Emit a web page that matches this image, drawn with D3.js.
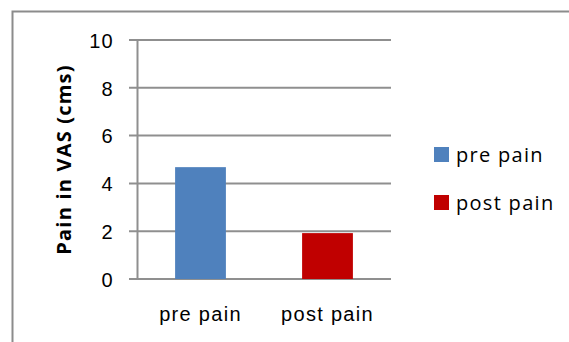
<!DOCTYPE html>
<html>
<head>
<meta charset="utf-8">
<script src="https://cdn.jsdelivr.net/npm/d3@7"></script>
<style>
  html, body { margin: 0; padding: 0; background: #fff; }
  svg { display: block; font-family: "Open Sans", "Noto Sans", sans-serif; }
</style>
</head>
<body>
<svg id="chart" width="569" height="342"></svg>
<script>
// Pain scores on the visual analogue scale, before and after treatment
const categories = ["pre pain", "post pain"];
const values = [4.68, 1.92];
const colors = ["#4f81bd", "#c00000"];
const yTicks = [0, 2, 4, 6, 8, 10];
const yTitle = "Pain in VAS (cms)";

const svg = d3.select("#chart");
const W = 569, H = 342;

// outer chart frame (top and left edges visible)
svg.append("path")
  .attr("d", `M12.5,${H} V11.5 H${W}`)
  .attr("fill", "none")
  .attr("stroke", "#8c8c8c")
  .attr("stroke-width", 2);

const plot = { left: 137, right: 391, top: 40, bottom: 279 };

const x = d3.scaleBand()
  .domain(categories)
  .range([plot.left, plot.right])
  .paddingInner(0.6)
  .paddingOuter(0.3);

const y = d3.scaleLinear()
  .domain([0, 10])
  .range([plot.bottom, plot.top]);

// horizontal gridlines
svg.append("g")
  .selectAll("line")
  .data(yTicks)
  .join("line")
  .attr("x1", plot.left - 8)
  .attr("x2", plot.right)
  .attr("y1", d => y(d))
  .attr("y2", d => y(d))
  .attr("stroke", "#8f8f8f")
  .attr("stroke-width", 2);

// bars
svg.append("g")
  .selectAll("rect")
  .data(categories)
  .join("rect")
  .attr("x", d => x(d))
  .attr("width", x.bandwidth())
  .attr("y", (d, i) => y(values[i]))
  .attr("height", (d, i) => y(0) - y(values[i]))
  .attr("fill", (d, i) => colors[i]);

const labelStyle = sel => sel
  .attr("font-size", 20)
  .attr("letter-spacing", "1.3px")
  .attr("fill", "#000")
  .style("font-family", "inherit");

// y axis
const yAxis = svg.append("g")
  .attr("transform", `translate(${plot.left},0)`)
  .call(d3.axisLeft(y).tickValues(yTicks).tickSize(0).tickPadding(23));
yAxis.select(".domain").attr("stroke", "#8f8f8f").attr("stroke-width", 2);
yAxis.selectAll("text").call(labelStyle).attr("dy", "0.36em");

// x axis labels
const xAxis = svg.append("g")
  .attr("transform", `translate(0,${plot.bottom})`)
  .call(d3.axisBottom(x).tickSize(0).tickPadding(28));
xAxis.select(".domain").remove();
xAxis.selectAll("text").call(labelStyle);

// y axis title
svg.append("text")
  .attr("transform", `translate(71,${(plot.top + plot.bottom) / 2}) rotate(-90)`)
  .attr("text-anchor", "middle")
  .attr("font-size", 20)
  .attr("letter-spacing", "1.2px")
  .attr("font-weight", "bold")
  .attr("fill", "#000")
  .text(yTitle);

// legend
const legend = svg.append("g")
  .selectAll("g")
  .data(categories)
  .join("g")
  .attr("transform", (d, i) => `translate(434,${147 + i * 48})`);
legend.append("rect")
  .attr("width", 15)
  .attr("height", 15)
  .attr("fill", (d, i) => colors[i]);
legend.append("text")
  .attr("x", 22)
  .attr("y", 15)
  .call(labelStyle)
  .text(d => d);
</script>
</body>
</html>
